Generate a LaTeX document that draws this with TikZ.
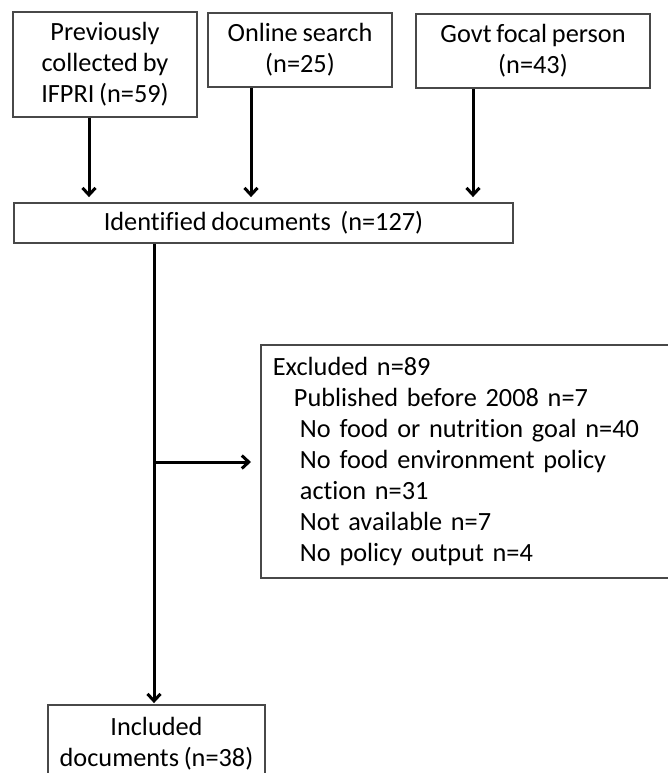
\documentclass[tikz,border=0pt]{standalone}
\usepackage{fontspec}
\setmainfont{Carlito}[Ligatures=NoCommon, WordSpace=0.8]
\usetikzlibrary{arrows.meta}
\definecolor{boxline}{HTML}{484848}
\begin{document}
\begin{tikzpicture}[x=1pt,y=-1pt,
  box/.style={draw=boxline, line width=1.8pt, inner sep=0pt, align=center,
    font=\fontsize{26.3}{31}\selectfont},
  arr/.style={line width=3pt, -{Straight Barb[length=7pt,width=13pt]}}]
\useasboundingbox (0,0) rectangle (668,773);
\clip (0,0) rectangle (668,773);
\node[box, minimum width=184pt, minimum height=105pt] (b1) at (105,64.5)
  {Previously\\collected by\\IFPRI (n=59)};
\node[box, minimum width=184pt, minimum height=74pt] (b2) at (300,50)
  {Online search\\(n=25)};
\node[box, minimum width=234pt, minimum height=74pt] (b3) at (533,51)
  {Govt focal person\\(n=43)};
\node[box, minimum width=499pt, minimum height=40pt] (id) at (263.5,223)
  {Identified documents\ \ (n=127)};
\node[box, text width=400pt, inner xsep=12pt, align=left, minimum height=233pt,
  anchor=west] (ex) at (260,461.5)
  {Excluded n=89\\
   \hspace*{21pt}Published before 2008 n=7\\
   \hspace*{27pt}No food or nutrition goal n=40\\
   \hspace*{27pt}No food environment policy\\
   \hspace*{27pt}action n=31\\
   \hspace*{27pt}Not available n=7\\
   \hspace*{27pt}No policy output n=4};
\node[box, minimum width=217pt, minimum height=77pt] (inc) at (156.5,743.5)
  {Included\\documents (n=38)};
\coordinate (c1) at (89,0);
\coordinate (c2) at (251,0);
\coordinate (c3) at (473,0);
\coordinate (c4) at (154,0);
\coordinate (c5) at (0,462);
\draw[arr, shorten >=5pt] (c1 |- b1.south) -- (c1 |- id.north);
\draw[arr, shorten >=5pt] (c2 |- b2.south) -- (c2 |- id.north);
\draw[arr, shorten >=5pt] (c3 |- b3.south) -- (c3 |- id.north);
\draw[arr, shorten >=1pt] (c4 |- id.south) -- (c4 |- inc.north);
\draw[arr, shorten >=9pt] (c4 |- c5) -- (c5 -| ex.west);
\end{tikzpicture}
\end{document}
